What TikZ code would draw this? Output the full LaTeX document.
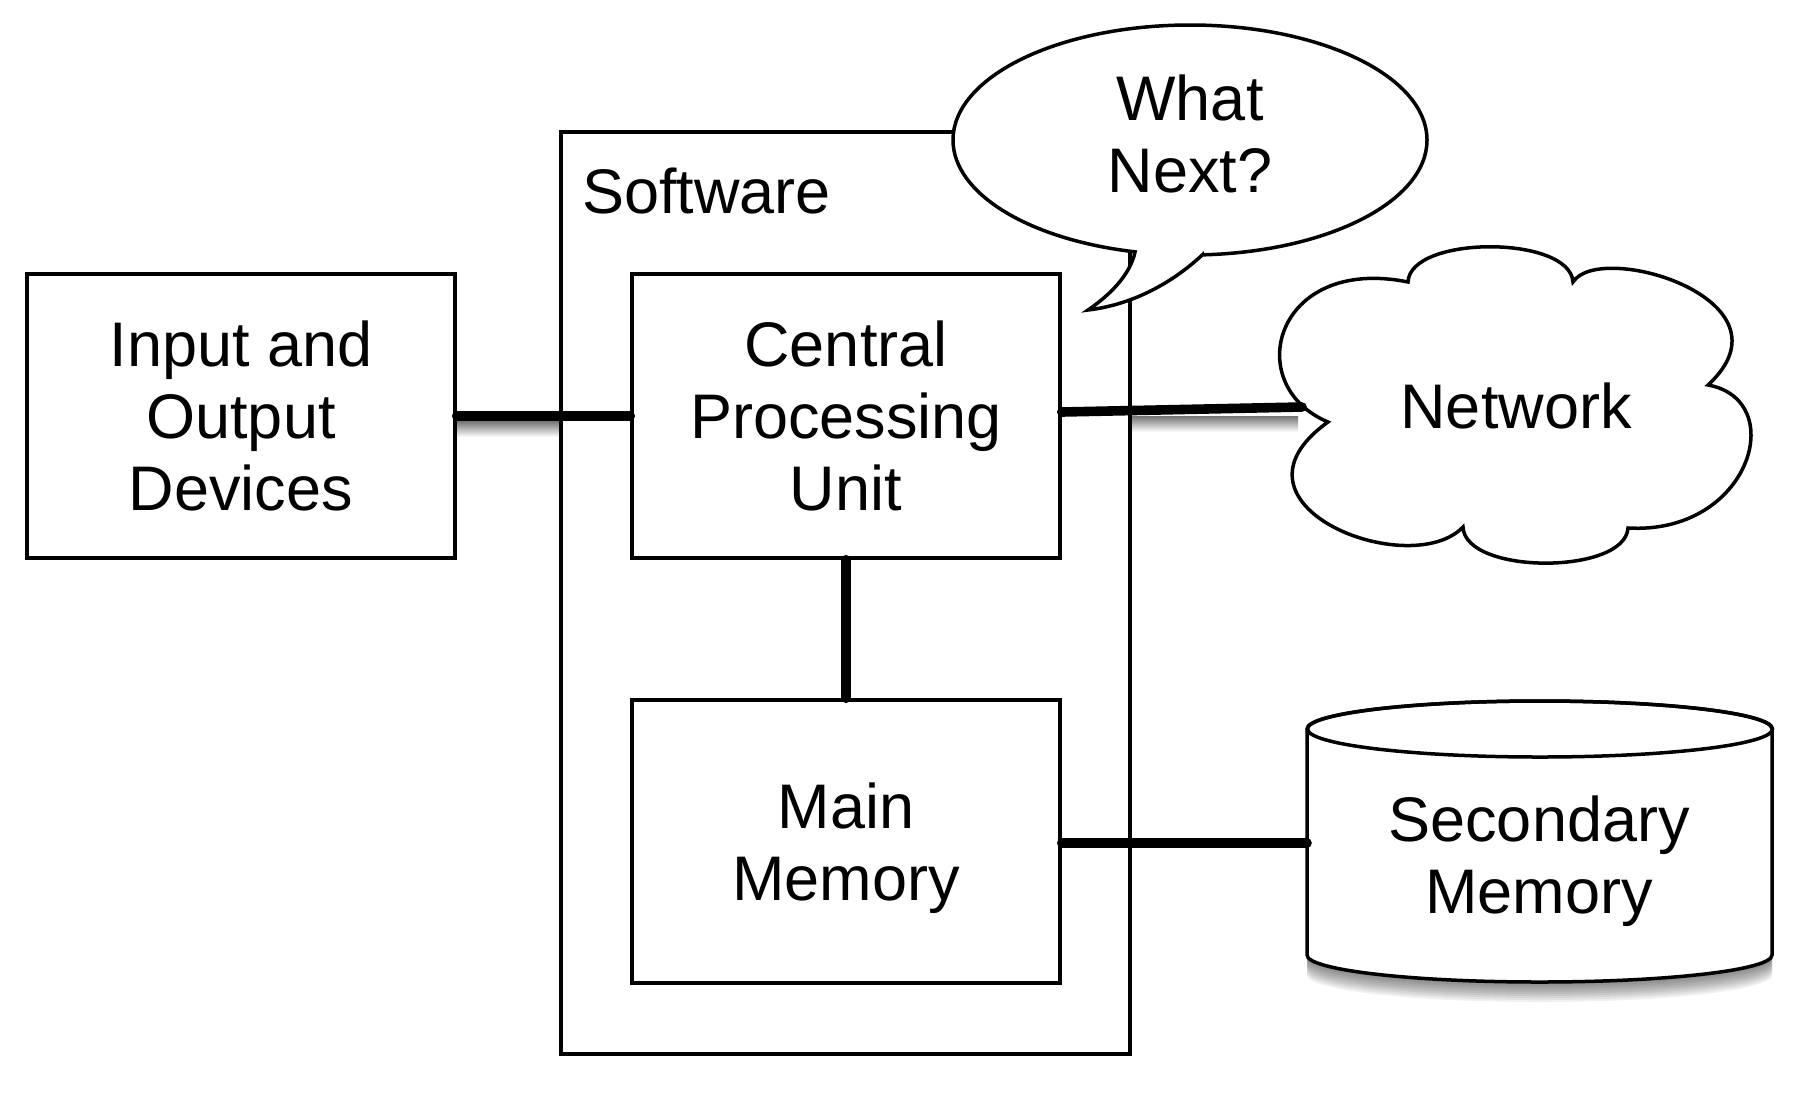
\documentclass[tikz,border=0pt]{standalone}
\usepackage{fontspec}
\setmainfont{Liberation Sans}
\usetikzlibrary{calc}
\newcommand\diagfont{\fontsize{31.5}{36}\selectfont}
\begin{document}
\begin{tikzpicture}[x=0.5pt,y=-0.5pt,
  outline/.style={line width=1.75pt},
  box/.style={draw, outline, fill=white, minimum width=214pt, minimum height=142pt,
              inner sep=0pt, align=center, font=\diagfont},
  lbl/.style={align=center, font=\diagfont, inner sep=0pt},
  conn/.style={line width=4.8pt, line cap=round},
  cast/.style={top color=black!55, bottom color=white, draw=none}]
\useasboundingbox (0,0) rectangle (1804,1099);

% drop shadows under the outer connectors
\shade[cast] (457,421) rectangle (561,437);
\shade[cast] (1131,416) rectangle (1298,432);

% software frame
\node[draw, outline, minimum width=284.5pt, minimum height=461pt, inner sep=0pt] (sw) at (845.5,593) {};
\node[lbl, anchor=base west] (swlabel) at (582,213) {Software};

% hardware boxes
\node[box] (io) at (241,416) {Input and\\Output\\Devices};
\node[box] (cpu) at (846,416) {Central\\Processing\\Unit};
\node[box, minimum height=141.5pt, text depth=0pt] (mm) at (846,841.5) {Main\\Memory};

% speech bubble
\draw[outline, fill=white] (1190,140) ++(273:118.5pt and 57.5pt)
  arc[start angle=273, end angle=616.6, x radius=118.5pt, y radius=57.5pt]
  .. controls (1130,275) and (1110,295) .. (1088,310)
  .. controls (1130,305) and (1170,285) .. (1202.4,254.8) -- cycle;
\node[lbl] (whatnext) at (1190,134) {What\\Next?};

% network cloud
\draw[outline, fill=white] (1328,422)
  .. controls (1240,385) and (1275,255) .. (1408,282)
  .. controls (1410,235) and (1570,235) .. (1573,282)
  .. controls (1600,240) and (1800,300) .. (1708,385)
  .. controls (1790,400) and (1750,535) .. (1628,528)
  .. controls (1625,575) and (1465,575) .. (1463,527)
  .. controls (1410,582) and (1212,505) .. (1328,422) -- cycle;
\node[lbl] (net) at (1516,405.5) {Network};
\coordinate (netin) at (1302,407);

% secondary memory cylinder with its shadow
\foreach \s in {1,...,10}
  \fill[black, opacity=0.06, yshift=-\s pt] (1307,729) -- (1307,955)
    arc[start angle=180, end angle=360, x radius=116.25pt, y radius=13.5pt] -- (1772,729) -- cycle;
\draw[outline, fill=white] (1307,729) -- (1307,955)
  arc[start angle=180, end angle=360, x radius=116.25pt, y radius=13.5pt] -- (1772,729)
  arc[start angle=0, end angle=180, x radius=116.25pt, y radius=14pt] -- cycle;
\draw[outline] (1540,729) ellipse[x radius=116.25pt, y radius=14pt];
\node[lbl, text depth=0pt] (disk) at (1539,855) {Secondary\\Memory};
\coordinate (diskin) at (1307,843);

% connectors
\draw[conn] (io.east) -- (cpu.west);
\draw[conn] ([yshift=2pt]cpu.east) -- (netin);
\draw[conn] (cpu.south) -- (mm.north);
\draw[conn] ([yshift=-0.75pt]mm.east) -- (diskin);
\end{tikzpicture}
\end{document}
